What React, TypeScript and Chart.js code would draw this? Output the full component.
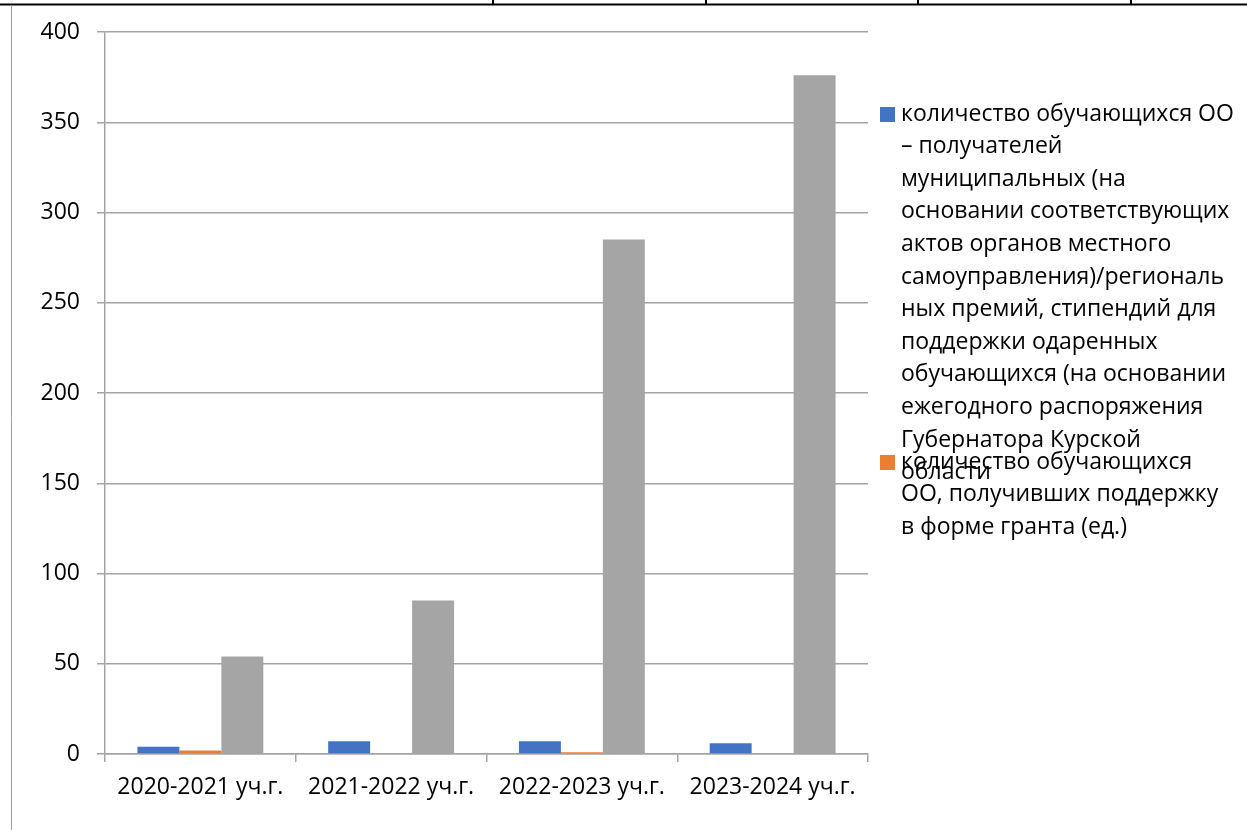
import React, { useEffect, useRef } from "react";
import { Chart, registerables } from "chart.js";

Chart.register(...registerables);

const categories = ["2020-2021 уч.г.", "2021-2022 уч.г.", "2022-2023 уч.г.", "2023-2024 уч.г."];
const seriesRecipients = [4, 7, 7, 6];
const seriesGrants = [2, 0, 1, 0];
const seriesThird = [54, 85, 285, 376];
const yMin = 0;
const yMax = 400;
const yStep = 50;

const labelRecipients =
  "количество обучающихся ОО – получателей муниципальных (на основании соответствующих актов органов местного самоуправления)/региональных премий, стипендий для поддержки одаренных обучающихся (на основании ежегодного распоряжения Губернатора Курской области";
const labelGrants = "количество обучающихся ОО, получивших поддержку в форме гранта (ед.)";
const labelThird = "Ряд 3";

const legendRecipientsLines = [
  "количество обучающихся ОО",
  "– получателей",
  "муниципальных (на",
  "основании соответствующих",
  "актов органов местного",
  "самоуправления)/региональ",
  "ных премий, стипендий для",
  "поддержки одаренных",
  "обучающихся (на основании",
  "ежегодного распоряжения",
  "Губернатора Курской",
  "области",
];
const legendGrantsLines = [
  "количество обучающихся",
  "ОО, получивших поддержку",
  "в форме гранта (ед.)",
];

const BLUE = "#4472c4";
const ORANGE = "#ed7d31";
const GRAY = "#a5a5a5";
const GRID = "#a3a3a3";
const FONT = '"Open Sans", "Noto Sans", sans-serif';

const decorPlugin = {
  id: "decor",
  afterDraw(chart: any) {
    const ctx = chart.ctx as CanvasRenderingContext2D;
    ctx.save();
    ctx.strokeStyle = "#000";
    ctx.lineWidth = 2;
    ctx.beginPath();
    ctx.moveTo(0, 4.5);
    ctx.lineTo(1247, 4.5);
    ctx.stroke();
    [493, 706, 918, 1131].forEach((x) => {
      ctx.beginPath();
      ctx.moveTo(x, 0);
      ctx.lineTo(x, 5);
      ctx.stroke();
    });
    ctx.strokeStyle = "#a0a0a0";
    ctx.lineWidth = 1;
    ctx.beginPath();
    ctx.moveTo(11.5, 5);
    ctx.lineTo(11.5, 830);
    ctx.stroke();

    const entries = [
      { color: BLUE, lines: legendRecipientsLines, y0: 114 },
      { color: ORANGE, lines: legendGrantsLines, y0: 462 },
    ];
    ctx.font = "23px " + FONT;
    ctx.textBaseline = "middle";
    ctx.textAlign = "left";
    entries.forEach((e) => {
      ctx.fillStyle = e.color;
      ctx.fillRect(880, e.y0 - 7, 15, 15);
      ctx.fillStyle = "#000";
      e.lines.forEach((line, i) => {
        ctx.fillText(line, 901, e.y0 + i * 32.6);
      });
    });
    ctx.restore();
  },
};

export default function App() {
  const ref = useRef<HTMLCanvasElement | null>(null);

  useEffect(() => {
    if (!ref.current) return;
    const chart = new Chart(ref.current, {
      type: "bar",
      data: {
        labels: categories,
        datasets: [
          { label: labelRecipients, data: seriesRecipients, backgroundColor: BLUE },
          { label: labelGrants, data: seriesGrants, backgroundColor: ORANGE },
          { label: labelThird, data: seriesThird, backgroundColor: GRAY },
        ],
      },
      options: {
        responsive: false,
        animation: false,
        devicePixelRatio: 1,
        layout: { padding: { top: 32, right: 379, left: 0, bottom: 0 } },
        datasets: { bar: { categoryPercentage: 0.66, barPercentage: 1 } },
        plugins: {
          legend: { display: false },
          tooltip: { enabled: false },
          title: { display: false },
        },
        scales: {
          x: {
            grid: {
              display: true,
              drawOnChartArea: false,
              drawTicks: true,
              tickLength: 8,
              lineWidth: 1.5,
              color: GRID,
              offset: true,
            },
            border: { display: true, color: GRID, width: 1.5 },
            ticks: {
              color: "#000",
              font: { family: FONT, size: 23 },
              padding: 12,
              maxRotation: 0,
              autoSkip: false,
            },
            afterFit: (s: any) => {
              s.height = 76;
            },
          },
          y: {
            min: yMin,
            max: yMax,
            grid: { color: GRID, lineWidth: 1.5, tickLength: 8, drawTicks: true },
            border: { display: true, color: GRID, width: 1.5 },
            ticks: {
              stepSize: yStep,
              color: "#000",
              font: { family: FONT, size: 23 },
              padding: 17,
            },
            afterFit: (s: any) => {
              s.width = 105;
            },
          },
        },
      },
      plugins: [decorPlugin],
    });
    return () => chart.destroy();
  }, []);

  return (
    <div style={{ position: "absolute", left: 0, top: 0, width: 1247, height: 830, background: "#fff" }}>
      <canvas ref={ref} width={1247} height={830} style={{ display: "block" }} />
    </div>
  );
}
